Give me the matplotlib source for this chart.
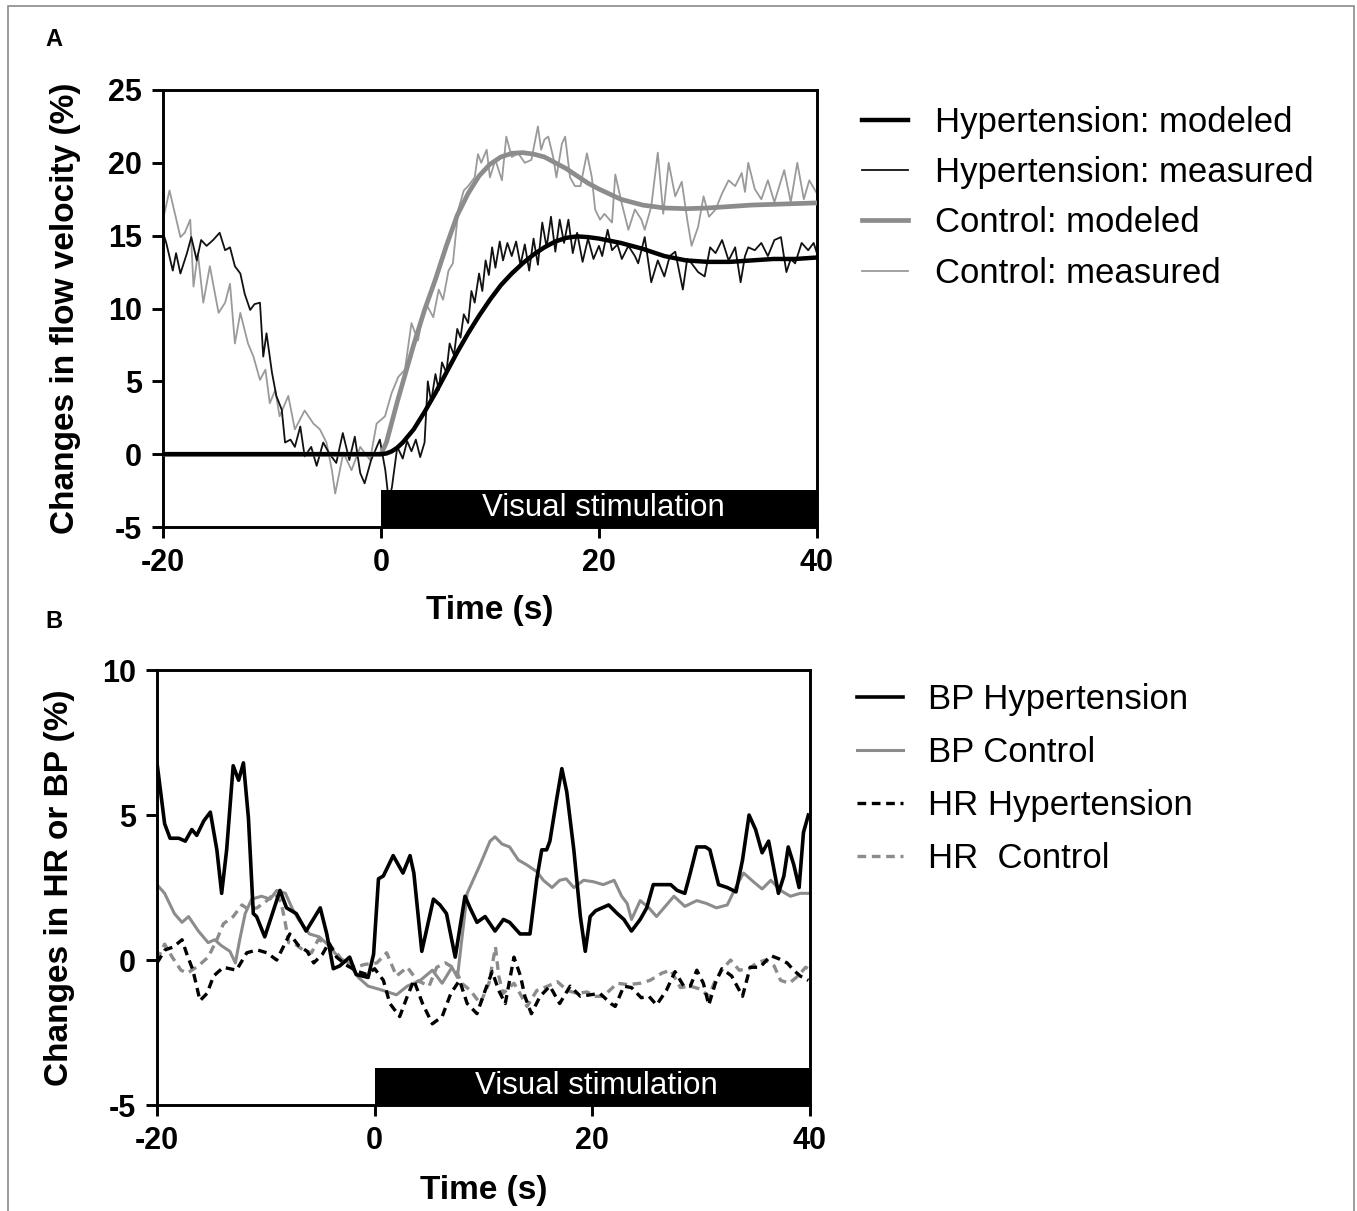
import matplotlib
matplotlib.use("Agg")
import matplotlib.pyplot as plt
from matplotlib.patches import Rectangle

plt.rcParams['font.family'] = ['Liberation Sans', 'DejaVu Sans']
plt.rcParams['axes.unicode_minus'] = False

# ---------------- Panel A: flow velocity ----------------
# modeled curves (thick)
t_model = [-20, -10, -2, 0, 0.5, 1, 1.5, 2, 3, 4, 5, 6, 7, 8, 9, 10, 11, 12, 13, 14, 15,
           16, 17, 18, 19, 20, 22, 24, 26, 28, 30, 32, 34, 36, 38, 40]
hyp_model = [0, 0, 0, 0, 0.05, 0.2, 0.45, 0.8, 1.7, 2.9, 4.2, 5.6, 7.0, 8.3, 9.5, 10.6, 11.6,
             12.4, 13.1, 13.7, 14.2, 14.6, 14.85, 14.95, 14.9, 14.8, 14.5, 14.1, 13.6, 13.3,
             13.2, 13.2, 13.3, 13.4, 13.4, 13.5]
ctl_model = [0, 0, 0, 0, 0.8, 2.2, 3.6, 4.9, 7.5, 9.9, 12.0, 14.3, 16.4, 17.9, 19.1, 19.9,
             20.4, 20.65, 20.7, 20.6, 20.4, 20.0, 19.6, 19.1, 18.6, 18.2, 17.5, 17.1, 16.9,
             16.85, 16.9, 17.0, 17.1, 17.15, 17.2, 17.25]

# measured curves (thin)
t_hyp_meas = [-20.0, -19.7, -19.1, -18.8, -18.4, -17.8, -17.4, -16.9, -16.5, -16.0, -15.4,
              -14.8, -14.3, -13.85, -13.4, -12.9, -12.5, -12.0, -11.6, -11.1, -10.8, -10.5,
              -10.0, -9.6, -9.1, -8.8, -8.3, -7.9, -7.4, -7.0, -6.4, -5.9, -5.3, -4.7, -4.1,
              -3.5, -2.9, -2.4, -1.9, -1.5, -0.9, -0.1, 0.4, 0.7, 1.0, 1.5, 2.0, 2.4, 2.8,
              3.2, 3.6, 4.0, 4.3, 4.6, 5.0, 5.3, 5.6, 6.0, 6.3, 6.7, 7.0, 7.3, 7.6, 8.0, 8.3,
              8.6, 9.0, 9.3, 9.6, 9.9, 10.2, 10.5, 10.9, 11.2, 11.6, 12.0, 12.4, 12.8, 13.2,
              13.6, 14.0, 14.4, 14.8, 15.2, 15.6, 16.0, 16.4, 16.8, 17.2, 17.6, 18.0, 18.5,
              19.0, 19.5, 20.0, 20.3, 20.8, 21.2, 21.7, 22.1, 22.7, 23.3, 23.6, 24.2, 24.8,
              25.4, 26.0, 26.5, 27.0, 27.7, 28.1, 28.5, 29.1, 29.7, 30.2, 30.7, 31.3, 31.9,
              32.5, 33.0, 33.4, 33.7, 34.3, 34.9, 35.5, 36.1, 36.7, 37.2, 37.6, 38.0, 38.6,
              39.2, 39.7, 40.0]
hyp_meas = [15.2, 14.5, 12.6, 13.8, 12.4, 13.8, 14.9, 13.3, 14.7, 14.3, 14.7, 15.2, 14.0,
            14.2, 12.9, 12.4, 11.0, 9.9, 10.3, 10.4, 6.7, 8.3, 5.6, 4.0, 3.05, 0.8, 1.0, 0.5,
            1.9, -0.15, 0.5, -0.8, 0.8, 0.0, -0.6, 1.45, -0.4, 1.2, -1.3, -2.0, -0.4, 1.0,
            -1.1, -3.1, -2.3, 0.5, -0.3, 0.9, 0.2, 1.0, -0.2, 0.8, 5.0, 3.6, 5.5, 4.4, 6.3,
            5.6, 7.6, 6.8, 8.6, 8.0, 9.6, 9.0, 11.2, 10.4, 12.4, 11.2, 13.3, 12.3, 14.2,
            12.8, 14.6, 13.3, 14.5, 13.6, 14.6, 13.0, 14.4, 12.6, 14.8, 13.0, 15.9, 14.2,
            16.3, 13.9, 16.1, 14.5, 16.1, 13.8, 15.2, 13.2, 14.8, 13.4, 14.3, 13.6, 15.4,
            14.0, 14.4, 13.4, 14.3, 13.6, 13.1, 14.9, 11.8, 13.3, 12.2, 13.6, 13.9, 11.3,
            13.4, 13.1, 12.5, 12.2, 14.2, 13.8, 14.7, 13.3, 14.2, 11.8, 13.6, 14.2, 14.0,
            14.5, 13.6, 14.7, 14.9, 12.5, 13.4, 13.1, 14.5, 14.0, 14.5, 13.8]

t_ctl_meas = [-20.0, -19.4, -18.4, -18.0, -17.5, -17.2, -16.8, -16.3, -15.7, -14.9, -14.3,
              -13.85, -13.4, -12.9, -12.5, -12.2, -11.7, -11.1, -10.6, -10.2, -9.7, -9.3,
              -8.5, -7.9, -7.0, -6.2, -5.6, -5.0, -4.5, -4.2, -3.45, -2.7, -1.9, -1.0, -0.4,
              0.37, 0.98, 1.59, 2.2, 2.8, 3.4, 3.9, 4.3, 4.8, 5.3, 5.7, 6.2, 6.6, 7.1, 7.6,
              8.0, 8.6, 8.9, 9.2, 9.7, 10.0, 10.5, 11.1, 11.5, 12.0, 12.6, 13.2, 13.8, 14.4,
              14.7, 15.0, 15.35, 15.8, 16.1, 16.6, 16.9, 17.35, 17.8, 18.3, 18.9, 19.35,
              19.65, 20.1, 20.5, 21.2, 21.5, 22.1, 22.7, 23.3, 23.9, 24.2, 24.8, 25.4, 25.9,
              26.4, 27.0, 27.6, 28.1, 28.5, 29.1, 29.6, 30.1, 30.7, 31.3, 31.9, 32.5, 33.1,
              33.4, 33.7, 34.3, 34.9, 35.5, 36.1, 37.0, 37.6, 38.2, 38.8, 39.3, 40.0]
ctl_meas = [16.1, 18.1, 14.9, 15.2, 16.1, 11.5, 13.8, 10.4, 12.9, 9.7, 10.4, 11.7, 7.6, 9.7,
            8.5, 7.6, 6.7, 5.1, 5.8, 3.5, 4.4, 2.6, 4.0, 1.7, 3.0, 2.1, 1.7, 0.8, -1.1, -2.7,
            0.1, -1.1, 0.5, -0.4, 2.1, 2.6, 4.2, 5.3, 5.8, 9.0, 7.8, 9.9, 10.1, 9.4, 11.3,
            10.6, 12.6, 13.1, 16.8, 18.1, 18.4, 19.0, 20.6, 20.0, 20.9, 19.0, 20.2, 18.8,
            21.8, 20.4, 20.65, 20.0, 20.2, 22.5, 20.9, 21.6, 21.8, 20.4, 19.0, 21.3, 21.8,
            19.0, 18.4, 18.4, 20.65, 19.0, 16.8, 16.1, 16.5, 15.9, 19.2, 17.2, 15.4, 16.8,
            16.1, 15.4, 17.0, 20.7, 16.5, 20.0, 17.7, 18.7, 16.1, 14.3, 15.6, 17.7, 16.3,
            16.8, 17.9, 18.8, 18.4, 19.3, 18.0, 20.0, 18.2, 17.5, 18.8, 17.3, 19.5, 17.3,
            20.0, 17.5, 18.8, 17.9]

# ---------------- Panel B: HR and BP ----------------
t_bp_hyp = [-20.0, -19.3, -18.8, -18.0, -17.4, -16.8, -16.35, -15.7, -15.1, -14.5, -14.06,
            -13.6, -13.0, -12.5, -12.06, -11.6, -11.15, -10.85, -10.1, -8.7, -8.1, -7.2,
            -6.3, -5.0, -4.4, -3.8, -3.2, -2.3, -1.7, -0.6, -0.1, 0.35, 0.8, 1.7, 2.6, 3.25,
            3.6, 4.33, 5.4, 6.0, 6.6, 7.4, 8.3, 8.76, 9.4, 10.15, 11.06, 11.83, 12.4, 13.36,
            14.27, 14.9, 15.35, 15.8, 16.1, 16.7, 17.2, 17.65, 18.3, 18.9, 19.35, 19.8, 20.3,
            20.9, 21.5, 22.3, 22.9, 23.6, 24.4, 25.0, 25.6, 26.2, 27.2, 27.8, 28.5, 29.0,
            29.6, 30.4, 30.8, 31.6, 32.4, 33.2, 33.8, 34.4, 35.0, 35.6, 36.2, 37.1, 37.6,
            38.0, 38.5, 39.0, 39.4, 39.85]
bp_hyp = [6.8, 4.7, 4.2, 4.2, 4.1, 4.5, 4.3, 4.8, 5.1, 3.8, 2.3, 3.8, 6.7, 6.2, 6.8, 4.9,
          1.6, 1.5, 0.8, 2.4, 1.8, 1.6, 1.0, 1.8, 0.9, -0.3, -0.2, 0.1, -0.5, -0.6, 0.2, 2.8,
          2.9, 3.6, 3.0, 3.6, 3.0, 0.3, 2.1, 1.9, 1.6, 0.1, 2.2, 1.8, 1.3, 1.5, 1.0, 1.4,
          1.3, 0.9, 0.9, 2.8, 3.8, 3.8, 4.1, 5.5, 6.6, 5.8, 3.8, 1.5, 0.3, 1.5, 1.7, 1.8,
          1.9, 1.6, 1.4, 1.0, 1.4, 1.8, 2.6, 2.6, 2.6, 2.4, 2.3, 3.0, 3.9, 3.9, 3.8, 2.6,
          2.5, 2.35, 3.45, 5.0, 4.5, 3.7, 4.1, 2.3, 2.9, 3.9, 3.3, 2.5, 4.4, 5.0]

t_bp_ctl = [-20.0, -19.3, -18.4, -17.7, -17.1, -16.2, -15.3, -14.7, -14.1, -13.3, -12.8,
            -12.4, -11.9, -11.3, -10.4, -9.6, -9.0, -8.2, -7.6, -7.0, -6.0, -5.1, -4.2,
            -3.35, -2.4, -1.5, -0.6, 0.34, 1.2, 2.0, 3.0, 4.2, 5.3, 6.2, 7.1, 7.6, 8.5, 9.7,
            10.6, 11.06, 11.7, 12.4, 13.2, 13.9, 14.9, 15.5, 16.3, 17.0, 17.6, 18.3, 19.2,
            20.1, 21.0, 22.0, 22.7, 23.2, 23.6, 24.4, 25.2, 25.9, 26.7, 27.5, 28.5, 29.6,
            30.5, 31.4, 32.4, 33.3, 33.9, 34.8, 35.6, 36.4, 37.3, 38.2, 39.1, 39.85]
bp_ctl = [2.6, 2.3, 1.6, 1.3, 1.5, 1.0, 0.6, 0.7, 0.5, 0.3, -0.1, 0.7, 1.6, 2.1, 2.2, 2.1,
          2.4, 2.3, 1.8, 1.4, 0.9, 0.8, 0.5, 0.1, -0.1, -0.6, -0.9, -1.0, -1.1, -1.2, -0.9,
          -0.7, -0.35, -0.8, -0.25, -0.6, 2.3, 3.3, 4.1, 4.25, 4.0, 3.9, 3.45, 3.3, 3.05,
          2.75, 2.5, 2.75, 2.8, 2.5, 2.75, 2.7, 2.6, 2.75, 2.2, 1.95, 1.4, 2.05, 1.8, 1.5,
          1.85, 2.2, 1.85, 2.05, 1.95, 1.8, 1.9, 2.6, 3.0, 2.7, 2.45, 2.75, 2.4, 2.2, 2.3,
          2.3]

t_hr_hyp = [-20.0, -19.26, -18.5, -17.7, -17.3, -16.7, -16.05, -15.4, -14.8, -13.9, -12.7,
            -11.75, -10.8, -9.9, -9.0, -8.4, -7.8, -7.0, -6.2, -5.6, -4.8, -4.2, -3.5, -2.5,
            -1.5, -0.7, 0.0, 0.8, 1.4, 2.3, 3.0, 3.6, 4.4, 5.3, 6.2, 7.0, 7.8, 8.5, 9.4,
            10.15, 10.8, 11.4, 12.0, 12.8, 13.4, 13.8, 14.4, 15.2, 16.1, 17.0, 17.96, 18.9,
            19.8, 20.7, 21.7, 22.1, 22.9, 23.6, 24.5, 25.2, 25.9, 26.8, 27.6, 28.4, 29.0,
            29.6, 30.2, 30.7, 31.3, 31.9, 32.8, 33.8, 34.5, 35.4, 36.4, 37.1, 37.9, 38.5,
            39.1, 39.85]
hr_hyp = [-0.1, 0.35, 0.45, 0.7, 0.25, -0.35, -1.4, -1.15, -0.55, -0.25, -0.35, 0.25, 0.35,
          0.25, 0.0, 0.45, 0.9, 0.5, 0.3, -0.1, 0.2, 0.6, 0.1, -0.2, -0.4, -0.5, -0.3, -0.7,
          -1.5, -1.95, -1.25, -0.7, -1.5, -2.2, -1.95, -1.15, -0.7, -1.5, -1.85, -1.05,
          -0.4, -1.05, -1.5, 0.1, -0.55, -1.25, -1.85, -1.25, -0.9, -1.5, -0.9, -1.25,
          -1.2, -1.15, -1.5, -1.6, -0.9, -0.95, -1.3, -1.25, -1.55, -1.05, -0.4, -0.9,
          -0.9, -0.35, -0.8, -1.55, -0.8, -0.3, -0.55, -1.25, -0.25, -0.25, 0.15, 0.05,
          -0.1, -0.35, -0.55, -0.7]

t_hr_ctl = [-20.0, -19.3, -18.6, -17.8, -17.2, -16.2, -15.3, -14.5, -13.9, -13.0, -12.2,
            -11.6, -10.8, -9.9, -9.2, -8.6, -8.2, -7.9, -7.3, -6.6, -5.8, -5.2, -4.5, -3.7,
            -2.8, -1.8, -0.9, 0.2, 1.1, 2.0, 3.0, 3.9, 5.0, 5.7, 6.5, 7.4, 8.0, 8.8, 9.7,
            10.5, 11.1, 11.4, 11.8, 12.8, 13.5, 14.0, 14.9, 15.9, 16.8, 17.7, 18.6, 19.5,
            20.3, 21.0, 22.3, 23.3, 24.4, 25.3, 26.4, 27.2, 28.1, 29.0, 29.9, 30.7, 31.3,
            31.9, 32.7, 33.5, 34.4, 35.1, 35.9, 36.7, 37.3, 38.1, 38.9, 39.6, 39.85]
hr_ctl = [0.0, 0.55, 0.1, -0.35, -0.45, -0.2, 0.1, 0.7, 1.25, 1.5, 1.9, 1.75, 1.8, 2.05,
          2.3, 2.0, 1.25, 0.6, 0.55, 0.35, 0.25, 0.7, 0.6, 0.35, -0.1, -0.25, -0.15, -0.1,
          0.25, -0.55, -0.25, -0.7, -0.9, -0.25, -0.1, -0.3, -0.8, -1.05, -1.5, -0.8, 0.45,
          -0.55, -1.15, -0.8, -1.25, -1.6, -1.05, -0.9, -0.75, -1.05, -1.15, -1.1, -1.25,
          -1.25, -0.8, -0.85, -0.8, -0.7, -0.45, -0.35, -0.95, -0.9, -1.0, -1.25, -0.7,
          -0.35, 0.0, -0.35, -0.3, -0.1, 0.0, -0.2, -0.7, -0.8, -0.55, -0.25, -0.3]

stim_start, stim_end = 0, 40

fig = plt.figure(figsize=(13.57, 12.11), dpi=100)

tick_fs = 22
label_fs = 24
leg_fs = 25


def style_axes(ax, ylim, yticks):
    ax.set_xlim(-20, 40)
    ax.set_ylim(*ylim)
    ax.set_xticks([-20, 0, 20, 40])
    ax.set_yticks(yticks)
    for sp in ax.spines.values():
        sp.set_linewidth(2.1)
    ax.tick_params(direction='out', length=8, width=2.1, labelsize=tick_fs, pad=7)
    for lab in ax.get_xticklabels() + ax.get_yticklabels():
        lab.set_fontweight('bold')


# ---- A ----
axA = fig.add_axes([0.1201, 0.5648, 0.4819, 0.3609])
axA.fill_between([stim_start, stim_end], -5, -2.45, color='black', lw=0, zorder=5)
axA.text(20.4, -3.72, 'Visual stimulation', color='white', fontsize=22.5,
         ha='center', va='center', zorder=6)
l2, = axA.plot(t_hyp_meas, hyp_meas, color='#111111', lw=1.3, zorder=2,
               label='Hypertension: measured')
l4, = axA.plot(t_ctl_meas, ctl_meas, color='#9a9a9a', lw=1.3, zorder=1,
               label='Control: measured')
l3, = axA.plot(t_model, ctl_model, color='#8c8c8c', lw=3.4, zorder=3,
               label='Control: modeled')
l1, = axA.plot(t_model, hyp_model, color='black', lw=3.2, zorder=4,
               label='Hypertension: modeled')
style_axes(axA, (-5, 25), [-5, 0, 5, 10, 15, 20, 25])
axA.set_xlabel('Time (s)', fontsize=label_fs, fontweight='bold')
axA.set_ylabel('Changes in flow velocity (%)', fontsize=label_fs, fontweight='bold')
axA.yaxis.set_label_coords(-0.125, 0.5)
axA.xaxis.set_label_coords(0.5, -0.155)
axA.legend(handles=[l1, l2, l3, l4], loc='upper left', bbox_to_anchor=(1.069, 0.964),
           frameon=False, fontsize=leg_fs, handlelength=1.33, handletextpad=0.78,
           labelspacing=0.5, borderpad=0, borderaxespad=0)

# ---- B ----
axB = fig.add_axes([0.1157, 0.0875, 0.4812, 0.3592])
axB.fill_between([stim_start, stim_end], -5, -3.72, color='black', lw=0, zorder=5)
axB.text(20.4, -4.36, 'Visual stimulation', color='white', fontsize=22.5,
         ha='center', va='center', zorder=6)
hr_style = (0, (2.6, 1.7))
m2, = axB.plot(t_bp_ctl, bp_ctl, color='#8c8c8c', lw=2.2, zorder=2, label='BP Control')
m4, = axB.plot(t_hr_ctl, hr_ctl, color='#8c8c8c', lw=2.4, ls=hr_style, zorder=1,
               label='HR  Control')
m3, = axB.plot(t_hr_hyp, hr_hyp, color='black', lw=2.4, ls=hr_style, zorder=3,
               label='HR Hypertension')
m1, = axB.plot(t_bp_hyp, bp_hyp, color='black', lw=2.6, zorder=4, label='BP Hypertension')
style_axes(axB, (-5, 10), [-5, 0, 5, 10])
axB.set_xlabel('Time (s)', fontsize=label_fs, fontweight='bold')
axB.set_ylabel('Changes in HR or BP (%)', fontsize=label_fs, fontweight='bold')
axB.yaxis.set_label_coords(-0.125, 0.5)
axB.xaxis.set_label_coords(0.5, -0.16)
axB.legend(handles=[m1, m2, m3, m4], loc='upper left', bbox_to_anchor=(1.072, 0.971),
           frameon=False, fontsize=leg_fs, handlelength=1.33, handletextpad=0.72,
           labelspacing=0.58, borderpad=0, borderaxespad=0)

# panel letters and outer frame
fig.text(45 / 1357, 1 - 40 / 1211, 'A', fontsize=17, fontweight='bold', va='center')
fig.text(45 / 1357, 1 - 622 / 1211, 'B', fontsize=17, fontweight='bold', va='center')
fig.patches.append(Rectangle((8 / 1357, -0.01), (1354 - 8) / 1357, 1.01 - 6 / 1211,
                             transform=fig.transFigure, fill=False,
                             edgecolor='#8a8a8a', lw=1.2))

fig.savefig('out.png', dpi=100)
